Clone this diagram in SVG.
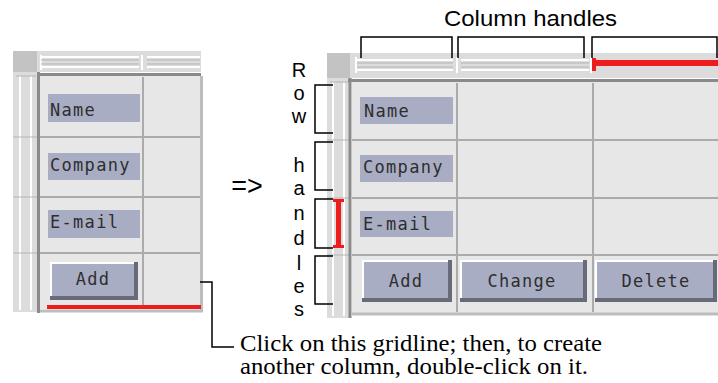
<svg xmlns="http://www.w3.org/2000/svg" width="718" height="383" viewBox="0 0 718 383">
<style>
.bg{fill:#ffffff}
.corner{fill:#c3c3c3}
.bar{fill:#dcdcdc}
.rail{stroke:#ffffff;stroke-width:2;fill:none}
.rail2{stroke:#b4b4b4;stroke-width:1;fill:none}
.frame{stroke:#8a8a8a;stroke-width:3;fill:none}
.cell{fill:#e7e7e7}
.grid{stroke:#ababab;stroke-width:2;fill:none}
.edge{stroke:#bdbdbd;stroke-width:3;fill:none}
.lbl{fill:#a9adc4}
.mono{font-family:"DejaVu Sans Mono","Liberation Mono",monospace;font-size:17px;fill:#2e2e2e;letter-spacing:1.3px}
.btnsh{fill:#676a78}
.btnhi{fill:#ffffff}
.red{fill:#ee1c1c}
.brk{fill:none;stroke:#000;stroke-width:1.5}
.sans{font-family:"Liberation Sans",Arial,sans-serif;fill:#000}
.serif{font-family:"Liberation Serif","Times New Roman",serif;font-size:23px;fill:#000}
</style>
<rect class="bg" x="0" y="0" width="718" height="383"/>

<g id="left-panel">
  <rect class="corner" x="13" y="51" width="24" height="21"/>
  <rect class="bar" x="37" y="51" width="164" height="21"/>
  <path class="rail" d="M41,57H139M147,57H200M41,67H139M147,67H200M41,55V70M142,55V70"/>
  <path class="rail2" d="M41,60H139M147,60H200M41,64H139M147,64H200"/>
  <rect class="bar" x="13" y="72" width="24" height="240"/>
  <path class="rail" d="M20,76V310M31,76V310"/>
  <path class="rail2" d="M13,137H37M13,197H37M13,253H37M16,76H36"/>
  <rect class="cell" x="40" y="76" width="160" height="233"/>
  <path class="frame" d="M37,74.5H201M38.5,72V313"/>
  <path class="grid" d="M143,77V305M40,137H200M40,197H200M40,253H200"/>
  <path class="edge" d="M201.5,76V312M40,311H203"/>
  <rect class="red" x="47" y="305" width="154" height="4"/>
</g>

<g id="left-name">
  <rect class="lbl" x="48" y="94" width="92" height="28"/>
  <text class="mono" x="50" y="116">Name</text>
</g>
<g id="left-company">
  <rect class="lbl" x="48" y="153" width="92" height="27"/>
  <text class="mono" x="50" y="171">Company</text>
</g>
<g id="left-email">
  <rect class="lbl" x="48" y="210" width="92" height="28"/>
  <text class="mono" x="50" y="228">E-mail</text>
</g>
<g id="left-add">
  <rect class="btnsh" x="50" y="262" width="88" height="38"/>
  <rect class="btnhi" x="50" y="262" width="84" height="34"/>
  <rect class="lbl" x="52" y="264" width="82" height="32"/>
  <text class="mono" x="93" y="285" text-anchor="middle">Add</text>
</g>

<g id="arrow-symbol">
  <text class="sans" x="247" y="195" font-size="27" text-anchor="middle">=&gt;</text>
</g>

<g id="right-panel">
  <rect class="corner" x="327" y="53" width="23" height="25"/>
  <rect class="bar" x="350" y="53" width="368" height="25"/>
  <path class="rail" d="M357,60H453M461,60H589M357,70H453M461,70H589M356,57V73M457,57V73M591,57V73"/>
  <path class="rail2" d="M357,63H453M461,63H589M357,67H453M461,67H589"/>
  <rect class="bar" x="327" y="78" width="23" height="240"/>
  <path class="rail" d="M333,82V316M344,82V316"/>
  <path class="rail2" d="M327,140H349M327,198H349M327,255H349M330,82H348"/>
  <rect class="cell" x="352" y="82" width="366" height="232"/>
  <path class="frame" d="M348,80.5H718M350,78V318"/>
  <path class="grid" d="M457,83V312M593,83V312M352,140H718M352,198H718M352,255H718"/>
  <path class="edge" d="M352,314H718"/>
  <rect class="red" x="592" y="60" width="126" height="6"/>
  <rect class="red" x="592" y="58" width="4" height="13"/>
  <rect class="red" x="336" y="199" width="5" height="49"/>
  <rect class="red" x="333" y="199" width="11" height="3"/>
  <rect class="red" x="333" y="245" width="11" height="3"/>
</g>

<g id="right-name">
  <rect class="lbl" x="360" y="97" width="93" height="27"/>
  <text class="mono" x="364" y="117">Name</text>
</g>
<g id="right-company">
  <rect class="lbl" x="360" y="155" width="93" height="27"/>
  <text class="mono" x="363" y="173">Company</text>
</g>
<g id="right-email">
  <rect class="lbl" x="360" y="211" width="93" height="26"/>
  <text class="mono" x="363" y="230">E-mail</text>
</g>
<g id="right-add">
  <rect class="btnsh" x="362" y="260" width="90" height="42"/>
  <rect class="btnhi" x="362" y="260" width="86" height="38"/>
  <rect class="lbl" x="364" y="262" width="84" height="36"/>
  <text class="mono" x="406" y="287" text-anchor="middle">Add</text>
</g>
<g id="right-change">
  <rect class="btnsh" x="460" y="260" width="127" height="42"/>
  <rect class="btnhi" x="460" y="260" width="123" height="38"/>
  <rect class="lbl" x="462" y="262" width="121" height="36"/>
  <text class="mono" x="522" y="287" text-anchor="middle">Change</text>
</g>
<g id="right-delete">
  <rect class="btnsh" x="595" y="260" width="122" height="42"/>
  <rect class="btnhi" x="595" y="260" width="118" height="38"/>
  <rect class="lbl" x="597" y="262" width="116" height="36"/>
  <text class="mono" x="656" y="287" text-anchor="middle">Delete</text>
</g>

<g id="column-handles-label">
  <text class="sans" x="444" y="26" font-size="22" textLength="173" lengthAdjust="spacingAndGlyphs">Column handles</text>
</g>
<g id="row-handles-label" class="sans" font-size="20" text-anchor="middle">
  <text x="299" y="77">R</text>
  <text x="299" y="100">o</text>
  <text x="299" y="123">w</text>
  <text x="299" y="172">h</text>
  <text x="299" y="195">a</text>
  <text x="299" y="220">n</text>
  <text x="299" y="245">d</text>
  <text x="299" y="270">l</text>
  <text x="299" y="293">e</text>
  <text x="299" y="316">s</text>
</g>
<g id="callout-text">
  <text class="serif" x="240" y="351" textLength="362" lengthAdjust="spacingAndGlyphs">Click on this gridline; then, to create</text>
  <text class="serif" x="240" y="374" textLength="348" lengthAdjust="spacingAndGlyphs">another column, double-click on it.</text>
</g>

<g id="connectors">
  <path class="brk" d="M361,58V37H452V58M458,58V37H584V58M592,58V37H717V58"/>
  <path class="brk" d="M333,85H315V133H333M333,142H315V190H333M333,199H315V248H333M333,256H315V304H333"/>
  <path class="brk" d="M200,282H212V347H234"/>
</g>
</svg>
